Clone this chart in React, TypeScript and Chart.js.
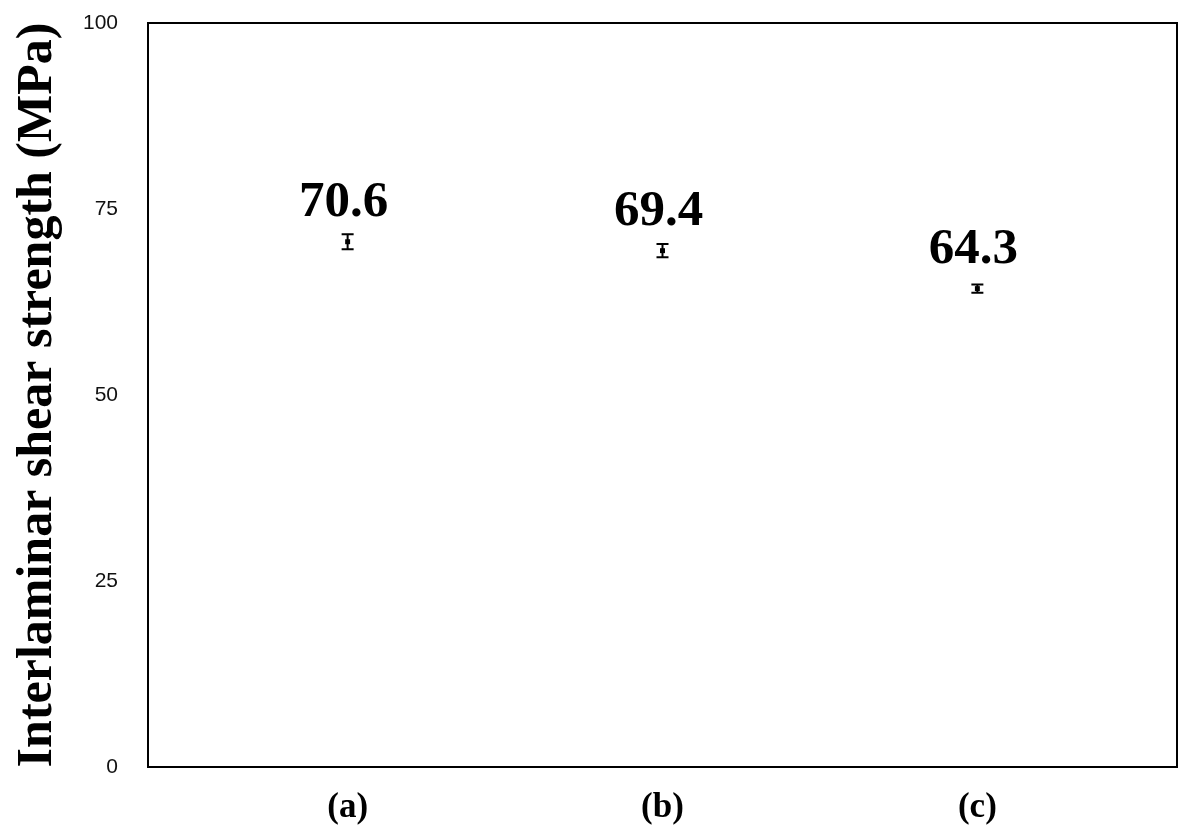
import React, { useEffect, useRef } from "react";
import { Chart, registerables } from "chart.js";

Chart.register(...registerables);

const categories = ["(a)", "(b)", "(c)"];
const positions = [1, 2, 3];
const strengthValues = [70.6, 69.4, 64.3];
const errorValues = [1.0, 0.9, 0.55];
const valueLabels = ["70.6", "69.4", "64.3"];
const yTicks = [0, 25, 50, 75, 100];

const framePlugin = {
  id: "frame",
  afterDraw(chart: any) {
    const { ctx, chartArea } = chart;
    ctx.save();
    ctx.strokeStyle = "#000";
    ctx.lineWidth = 2;
    ctx.strokeRect(chartArea.left, chartArea.top, chartArea.right - chartArea.left, chartArea.bottom - chartArea.top);
    ctx.restore();
  },
};

const errorBarPlugin = {
  id: "errorBars",
  afterDatasetsDraw(chart: any) {
    const { ctx } = chart;
    const xs = chart.scales.x;
    const ys = chart.scales.y;
    ctx.save();
    ctx.strokeStyle = "#000";
    ctx.lineWidth = 2;
    positions.forEach((p, i) => {
      const x = xs.getPixelForValue(p);
      const yTop = ys.getPixelForValue(strengthValues[i] + errorValues[i]);
      const yBot = ys.getPixelForValue(strengthValues[i] - errorValues[i]);
      ctx.beginPath();
      ctx.moveTo(x, yTop);
      ctx.lineTo(x, yBot);
      ctx.moveTo(x - 6, yTop);
      ctx.lineTo(x + 6, yTop);
      ctx.moveTo(x - 6, yBot);
      ctx.lineTo(x + 6, yBot);
      ctx.stroke();
    });
    ctx.fillStyle = "#000";
    ctx.font = "bold 51px 'Liberation Serif', 'Times New Roman', serif";
    ctx.textAlign = "center";
    ctx.textBaseline = "alphabetic";
    positions.forEach((p, i) => {
      const x = xs.getPixelForValue(p);
      const y = ys.getPixelForValue(strengthValues[i]);
      ctx.fillText(valueLabels[i], x - 4, y - 26);
    });
    ctx.restore();
  },
};

export default function App() {
  const canvasRef = useRef<HTMLCanvasElement | null>(null);

  useEffect(() => {
    if (!canvasRef.current) return;
    const chart = new Chart(canvasRef.current, {
      type: "scatter",
      data: {
        datasets: [
          {
            label: "ILSS",
            data: positions.map((p, i) => ({ x: p, y: strengthValues[i] })),
            pointStyle: "rect",
            pointRadius: 3.5,
            backgroundColor: "#000",
            borderColor: "#000",
            borderWidth: 0,
          },
        ],
      },
      options: {
        animation: false,
        responsive: true,
        maintainAspectRatio: false,
        layout: { padding: { left: 0, top: 23, right: 3, bottom: 0 } },
        plugins: {
          legend: { display: false },
          tooltip: { enabled: false },
        },
        scales: {
          x: {
            type: "linear",
            min: 0.366,
            max: 3.634,
            grid: { display: false, drawTicks: false },
            border: { display: false },
            afterBuildTicks: (scale: any) => {
              scale.ticks = positions.map((v) => ({ value: v }));
            },
            afterFit: (scale: any) => {
              scale.height = 60;
              scale.paddingLeft = 0;
              scale.paddingRight = 0;
            },
            ticks: {
              autoSkip: false,
              maxRotation: 0,
              padding: 20,
              color: "#000",
              font: { family: "'Liberation Serif', 'Times New Roman', serif", size: 35, weight: "bold" },
              callback: (v: any) => {
                const idx = positions.indexOf(Number(v));
                return idx >= 0 ? categories[idx] : "";
              },
            },
          },
          y: {
            min: 0,
            max: 100,
            grid: { display: false, drawTicks: false },
            border: { display: false },
            afterBuildTicks: (scale: any) => {
              scale.ticks = yTicks.map((v) => ({ value: v }));
            },
            afterFit: (scale: any) => {
              scale.width = 148;
              scale.paddingTop = 0;
              scale.paddingBottom = 0;
            },
            ticks: {
              padding: 30,
              color: "#111",
              font: { family: "'Liberation Sans', Arial, sans-serif", size: 21 },
            },
            title: {
              display: true,
              text: "Interlaminar shear strength (MPa)",
              color: "#000",
              padding: { top: 8, bottom: 0 },
              font: { family: "'Liberation Serif', 'Times New Roman', serif", size: 50, weight: "bold" },
            },
          },
        },
      },
      plugins: [framePlugin, errorBarPlugin],
    });
    return () => chart.destroy();
  }, []);

  return (
    <div style={{ position: "fixed", left: 0, top: 0, width: 1181, height: 827, background: "#fff" }}>
      <canvas ref={canvasRef} />
    </div>
  );
}
